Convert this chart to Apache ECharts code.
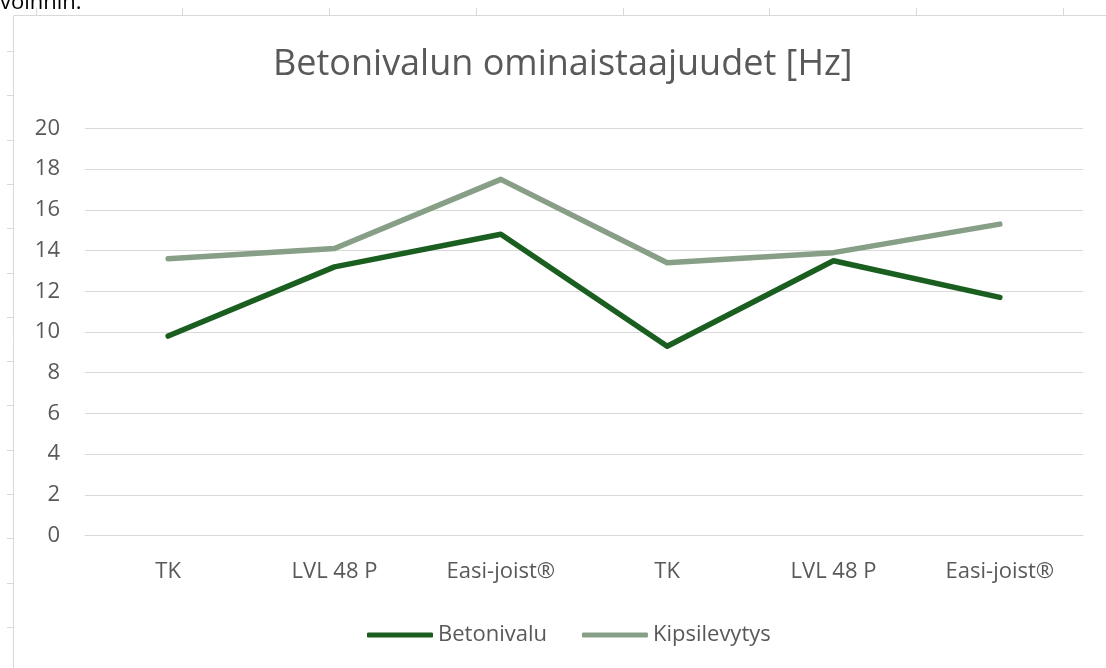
<!DOCTYPE html>
<html>
<head>
<meta charset="utf-8">
<script src="https://cdn.jsdelivr.net/npm/echarts@6/dist/echarts.min.js"></script>
<style>
html,body{margin:0;padding:0;background:#fff;}
#c{width:1106px;height:668px;}
</style>
</head>
<body>
<div id="c"></div>
<script>
const titleText = 'Betonivalun ominaistaajuudet [Hz]';
const categories = ['TK', 'LVL 48 P', 'Easi-joist®', 'TK', 'LVL 48 P', 'Easi-joist®'];
const seriesNames = ['Betonivalu', 'Kipsilevytys'];
const betonivalu = [9.8, 13.2, 14.8, 9.3, 13.5, 11.7];
const kipsilevytys = [13.6, 14.1, 17.5, 13.4, 13.9, 15.3];
const yTicks = { min: 0, max: 20, interval: 2 };

const chart = echarts.init(document.getElementById('c'), null, { renderer: 'canvas' });
const FONT = '"Open Sans", "Noto Sans", sans-serif';
const GREY = '#595959';

// page-frame decorations (document ruler ticks and frame border)
const deco = [];
deco.push({ type: 'line', shape: { x1: 13.5, y1: 15.5, x2: 1106, y2: 15.5 }, style: { stroke: '#d9d9d9', lineWidth: 1 } });
deco.push({ type: 'line', shape: { x1: 13.5, y1: 15.5, x2: 13.5, y2: 668 }, style: { stroke: '#d9d9d9', lineWidth: 1 } });
for (let k = 0; k < 8; k++) {
  const x = Math.round(35.7 + 146.7 * k) + 0.5;
  deco.push({ type: 'line', shape: { x1: x, y1: 8, x2: x, y2: 15.5 }, style: { stroke: '#d9d9d9', lineWidth: 1 } });
}
for (let k = 0; k < 14; k++) {
  const y = Math.round(51 + 44.3 * k) + 0.5;
  deco.push({ type: 'line', shape: { x1: 7, y1: y, x2: 13.5, y2: y }, style: { stroke: '#d9d9d9', lineWidth: 1 } });
}
deco.push({ type: 'text', left: 0, top: -8, style: { text: 'voinnin.', fill: '#000', font: '22px ' + FONT } });

chart.setOption({
  backgroundColor: '#fff',
  animation: false,
  title: {
    text: titleText,
    left: 268,
    top: 42,
    textStyle: { color: GREY, fontSize: 36, fontWeight: 'normal', fontFamily: FONT }
  },
  legend: {
    data: seriesNames,
    left: 362,
    top: 619,
    itemWidth: 66,
    itemHeight: 5,
    itemGap: 35,
    icon: 'roundRect',
    textStyle: { color: GREY, fontSize: 22, fontFamily: FONT }
  },
  grid: { left: 85, right: 23, top: 128.5, bottom: 132.5 },
  xAxis: {
    type: 'category',
    data: categories,
    boundaryGap: true,
    axisTick: { show: false },
    axisLine: { lineStyle: { color: '#d9d9d9', width: 1 } },
    axisLabel: { color: GREY, fontSize: 22, fontFamily: FONT, margin: 25 }
  },
  yAxis: {
    type: 'value',
    min: yTicks.min,
    max: yTicks.max,
    interval: yTicks.interval,
    axisLine: { show: false },
    axisTick: { show: false },
    splitLine: { lineStyle: { color: '#d9d9d9', width: 1 } },
    axisLabel: { color: GREY, fontSize: 22, fontFamily: FONT, margin: 25 }
  },
  series: [
    {
      name: seriesNames[0], type: 'line', data: betonivalu,
      symbol: 'none', color: '#1a5e20',
      lineStyle: { width: 5.5, color: '#1a5e20', cap: 'round', join: 'round' }
    },
    {
      name: seriesNames[1], type: 'line', data: kipsilevytys,
      symbol: 'none', color: '#879f86',
      lineStyle: { width: 5.5, color: '#879f86', cap: 'round', join: 'round' }
    }
  ],
  graphic: deco
});
</script>
</body>
</html>
